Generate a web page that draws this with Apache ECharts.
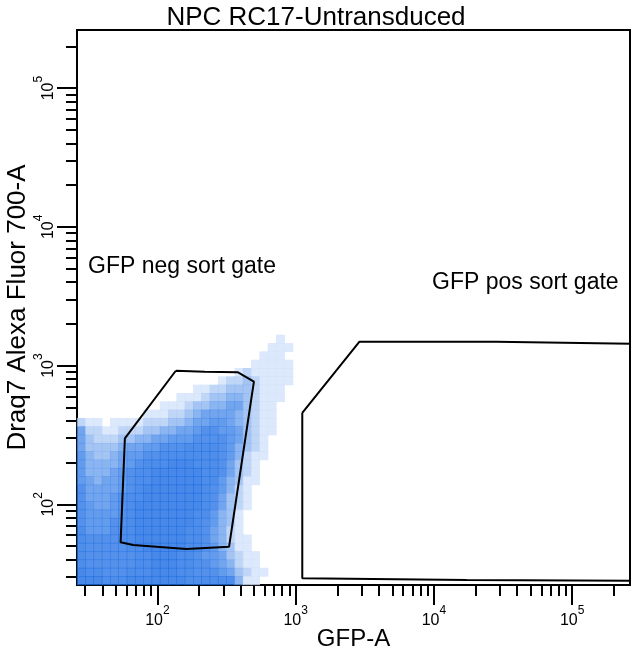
<!DOCTYPE html>
<html><head><meta charset="utf-8">
<script src="https://cdn.jsdelivr.net/npm/echarts@6/dist/echarts.min.js"></script>
<style>html,body{margin:0;padding:0;background:#fff}#c{width:632px;height:653px}</style>
</head><body><div id="c"></div>
<script>
// ---------- data ----------
const chartTitle = 'NPC RC17-Untransduced';
const xName = 'GFP-A';
const yName = 'Draq7 Alexa Fluor 700-A';
const axisMin = 26.2144;
const axisMax = 262144;
const majorTicks = [100, 1000, 10000, 100000];
const minorTicks = [30, 40, 50, 60, 70, 80, 90,
  200, 300, 400, 500, 600, 700, 800, 900,
  2000, 3000, 4000, 5000, 6000, 7000, 8000, 9000,
  20000, 30000, 40000, 50000, 60000, 70000, 80000, 90000, 200000];

const negGateName = 'GFP neg sort gate';
const posGateName = 'GFP pos sort gate';
// gate vertices [GFP-A, Draq7]
const negGate = [[135.9, 918], [220, 903], [383, 894], [499, 765], [330, 49.5],
  [162, 47.6], [66.8, 50.9], [54.2, 53.2], [58.2, 299], [135.9, 918]];
const posGate = [[1117, 457], [2896, 1486], [28100, 1486], [28380, 1447], [400000, 1430],
  [400000, 28.1], [17240, 28.5], [17240, 29.3], [1117, 29.3], [1117, 457]];

// event density: log10 bins starting at binStartLog, width binStepLog
// rows from top (highest Draq7 bin) to bottom; one digit (0-9) per GFP-A bin
const binStartLog = 1.42;
const binStepLog = 0.06;
const densityRows = [
  '000000000000000000000000100',
  '000000000000000000000001110',
  '000000000000000000000011100',
  '000000000000000000000111110',
  '000000000000000000012111110',
  '000000000000000001223211110',
  '000000000000001122333211100',
  '000000000000111233443211100',
  '000000000011123344553211000',
  '000000001112234555543211000',
  '211011112223345566543211000',
  '522112223344556776653211000',
  '532223344556667777653210000',
  '533334556677788887643210000',
  '643345667788888887642110000',
  '644445678889998887532100000',
  '644456788999999887532100000',
  '654556788999999886431100000',
  '755556789999999876421000000',
  '755567889999999875321000000',
  '765567899999999875321000000',
  '766667899999998864310000000',
  '766677899999998764310000000',
  '866678899999988754210000000',
  '877778899999988754211000000',
  '877777889999988764311000000',
  '877777788999887665321100000',
  '877777788999887765421100000',
  '988777888999887776532110000',
  '999888999999988888841100000'
];

// ---------- build ----------
const FONT = 'Liberation Sans';
const densityData = [];
densityRows.forEach((row, r) => {
  const j = densityRows.length - 1 - r;
  for (let i = 0; i < row.length; i++) {
    const d = +row[i];
    if (d > 0) {
      densityData.push([
        Math.pow(10, binStartLog + (i + 0.5) * binStepLog),
        Math.pow(10, binStartLog + (j + 0.5) * binStepLog),
        d
      ]);
    }
  }
});

function supLabel(v) {
  const p = Math.round(Math.log10(v));
  return '{b|10}{s|' + p + '}';
}
const labelRich = {
  b: {fontFamily: FONT, fontSize: 16, color: '#000', lineHeight: 24, verticalAlign: 'bottom'},
  s: {fontFamily: FONT, fontSize: 12, color: '#000', lineHeight: 12, verticalAlign: 'top'}
};

const chart = echarts.init(document.getElementById('c'));
const baseAxis = {type: 'log', logBase: 10, min: axisMin, max: axisMax, splitLine: {show: false}};

chart.setOption({
  animation: false,
  backgroundColor: '#fff',
  title: {text: chartTitle, left: 'center', top: 0,
    textStyle: {fontFamily: FONT, fontSize: 26, fontWeight: 'normal', color: '#000'}},
  grid: {left: 77, right: 2, top: 30, bottom: 68, show: true, borderColor: '#000', borderWidth: 2,
    backgroundColor: 'transparent', containLabel: false, outerBoundsMode: 'none'},
  visualMap: {show: false, type: 'continuous', dimension: 2, min: 1, max: 9, seriesIndex: 0,
    inRange: {color: ['#d3e2fa', '#8db5f0', '#4f8fea', '#2a76e5', '#1a6ae2']}},
  xAxis: [
    Object.assign({}, baseAxis, {
      position: 'bottom', name: xName, nameLocation: 'middle', nameGap: 42, nameMoveOverlap: false,
      nameTextStyle: {fontFamily: FONT, fontSize: 24, color: '#000'},
      axisLine: {show: true, lineStyle: {color: '#000', width: 2}},
      axisTick: {show: true, customValues: majorTicks, length: 20, lineStyle: {color: '#000', width: 2}},
      axisLabel: {customValues: majorTicks, formatter: supLabel, margin: 20, rich: labelRich}
    }),
    Object.assign({}, baseAxis, {
      position: 'bottom',
      axisLine: {show: false},
      axisTick: {show: true, customValues: minorTicks, length: 11, lineStyle: {color: '#000', width: 2}},
      axisLabel: {show: false}
    })
  ],
  yAxis: [
    Object.assign({}, baseAxis, {
      position: 'left', name: yName, nameLocation: 'middle', nameGap: 46, nameMoveOverlap: false,
      nameTextStyle: {fontFamily: FONT, fontSize: 26, color: '#000'},
      axisLine: {show: true, lineStyle: {color: '#000', width: 2}},
      axisTick: {show: true, customValues: majorTicks, length: 20, lineStyle: {color: '#000', width: 2}},
      axisLabel: {customValues: majorTicks, formatter: supLabel, margin: 20, rotate: 90, rich: labelRich}
    }),
    Object.assign({}, baseAxis, {
      position: 'left',
      axisLine: {show: false},
      axisTick: {show: true, customValues: minorTicks, length: 11, lineStyle: {color: '#000', width: 2}},
      axisLabel: {show: false}
    })
  ],
  series: [
    {type: 'scatter', xAxisIndex: 0, yAxisIndex: 0, data: densityData, symbol: 'rect',
      symbolSize: 9, silent: true, z: 2},
    {type: 'line', xAxisIndex: 0, yAxisIndex: 0, data: negGate, symbol: 'none', silent: true,
      lineStyle: {color: '#000', width: 2}, z: 5, clip: true},
    {type: 'line', xAxisIndex: 0, yAxisIndex: 0, data: posGate, symbol: 'none', silent: true,
      lineStyle: {color: '#000', width: 2}, z: 5, clip: true}
  ],
  graphic: [
    {type: 'text', left: 88, top: 255, style: {text: negGateName, font: '23px "Liberation Sans"', fill: '#000'}},
    {type: 'text', left: 432, top: 271, style: {text: posGateName, font: '23px "Liberation Sans"', fill: '#000'}}
  ]
});
</script>
</body></html>
